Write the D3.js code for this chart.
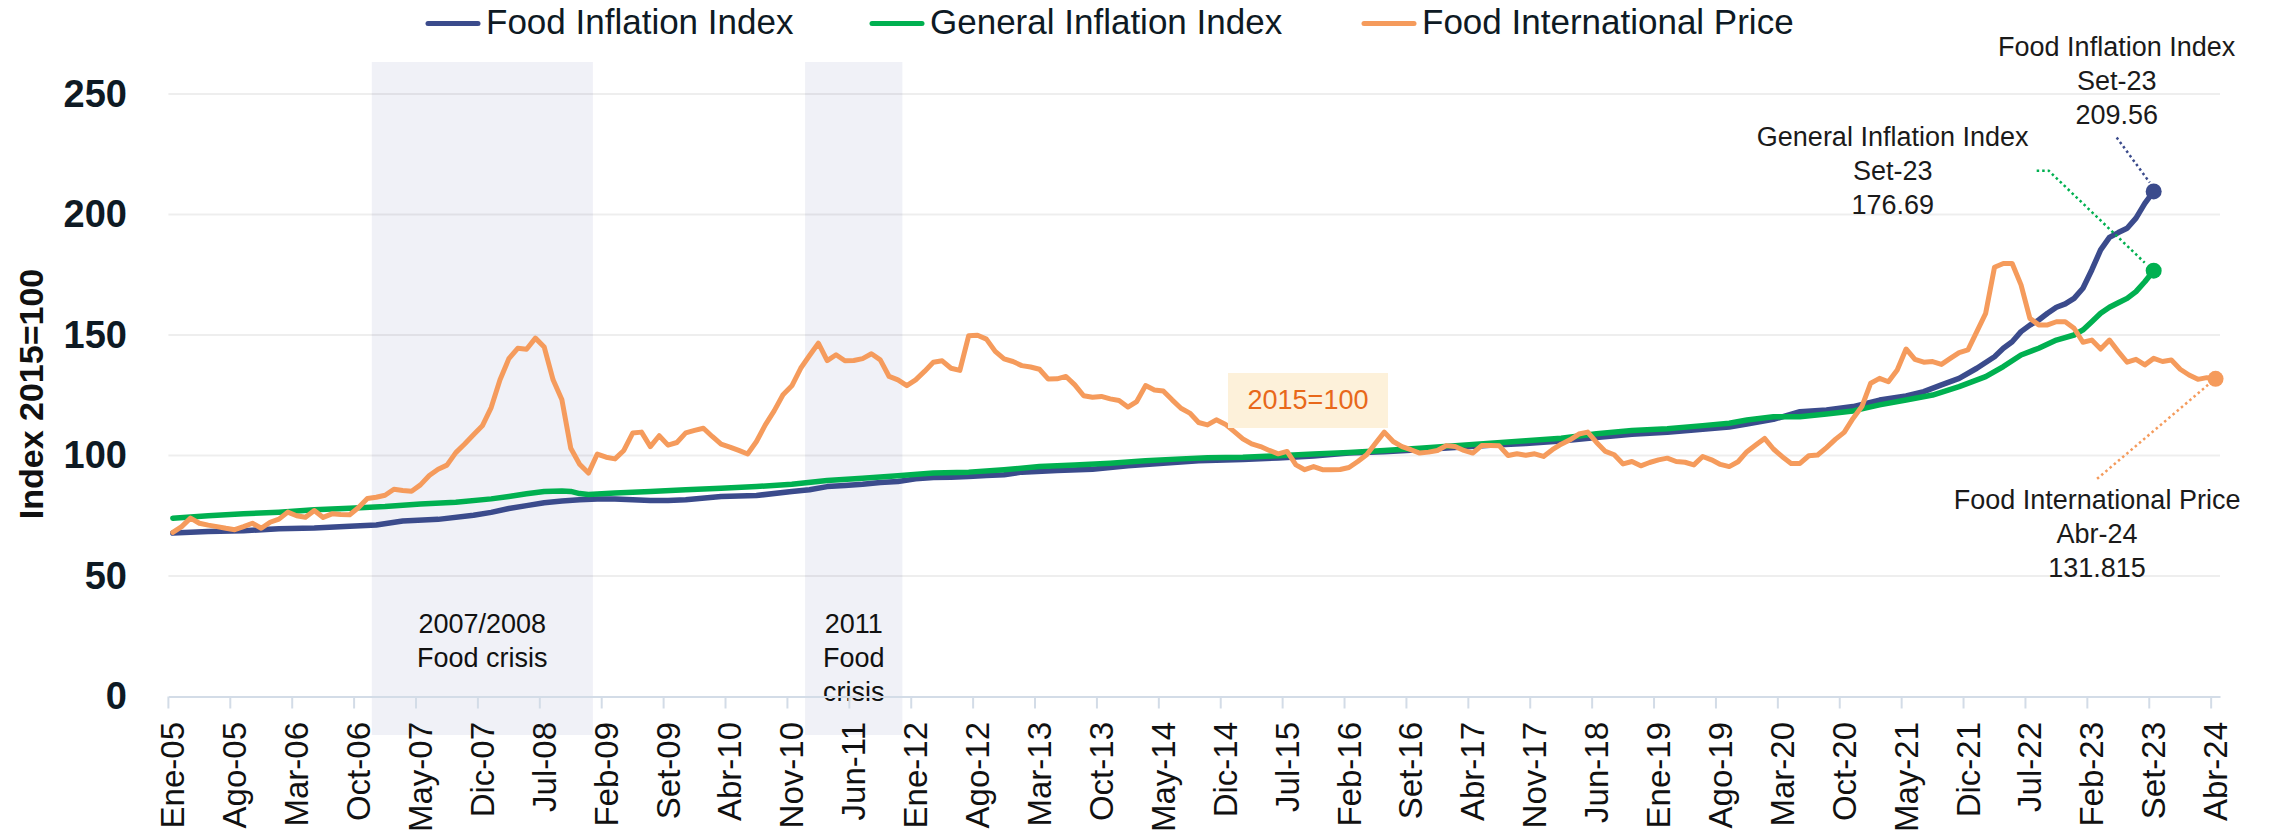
<!DOCTYPE html>
<html>
<head>
<meta charset="utf-8">
<script src="https://cdn.jsdelivr.net/npm/d3@7"></script>
<style>
  body { margin: 0; background: #fff; }
  text { font-family: "Liberation Sans", Arial, sans-serif; }
</style>
</head>
<body>
<script>
// ---- data ----
var monthNames = ["Ene","Feb","Mar","Abr","May","Jun","Jul","Ago","Set","Oct","Nov","Dic"];
var categories = [];
for (var i = 0; i < 232; i++) {
  categories.push(monthNames[i % 12] + "-" + String(5 + Math.floor(i / 12)).padStart(2, "0"));
}

var tickLabels = ["Ene-05","Ago-05","Mar-06","Oct-06","May-07","Dic-07","Jul-08","Feb-09","Set-09","Abr-10",
  "Nov-10","Jun-11","Ene-12","Ago-12","Mar-13","Oct-13","May-14","Dic-14","Jul-15","Feb-16","Set-16",
  "Abr-17","Nov-17","Jun-18","Ene-19","Ago-19","Mar-20","Oct-20","May-21","Dic-21","Jul-22","Feb-23",
  "Set-23","Abr-24"];

var yTicks = [0, 50, 100, 150, 200, 250];

// Food International Price, monthly Ene-05 .. Abr-24
var foodIntlPrice = [
  68.1, 70.5, 74.0, 71.9, 71.1, 70.5, 69.8, 69.2, 70.5, 71.9,
  69.8, 72.3, 73.6, 76.5, 75.0, 74.4, 77.2, 74.3, 75.8, 75.5,
  75.4, 78.4, 82.2, 82.7, 83.5, 86.0, 85.5, 85.2, 87.8, 91.7,
  94.3, 96.0, 101.2, 104.8, 108.6, 112.3, 119.9, 131.4, 140.2, 144.5,
  144.1, 148.7, 145.0, 131.4, 123.1, 103.0, 96.4, 92.7, 100.6, 99.3,
  98.6, 102.1, 109.3, 109.7, 103.7, 108.2, 104.3, 105.4, 109.4, 110.4,
  111.3, 107.9, 104.7, 103.5, 102.1, 100.6, 105.8, 112.7, 118.5, 125.2,
  128.9, 136.2, 141.5, 146.6, 139.4, 141.8, 139.3, 139.4, 140.2, 142.2,
  139.7, 132.8, 131.4, 129.0, 131.4, 134.9, 138.7, 139.3, 136.2, 135.3,
  149.7, 149.9, 148.3, 143.2, 140.1, 139.0, 137.3, 136.7, 135.8, 131.7,
  131.8, 132.8, 129.3, 124.8, 124.2, 124.5, 123.5, 122.8, 120.1, 122.4,
  129.0, 127.2, 126.8, 123.1, 119.6, 117.6, 113.7, 112.7, 114.8, 113.0,
  110.0, 106.9, 104.8, 103.7, 102.1, 100.7, 101.7, 96.1, 94.1, 95.4,
  94.1, 94.1, 94.2, 95.0, 97.5, 100.3, 105.1, 109.7, 105.8, 103.7,
  102.4, 101.0, 101.4, 102.1, 104.1, 103.7, 102.1, 101.0, 104.1, 104.1,
  104.0, 100.0, 100.7, 100.1, 100.7, 99.6, 102.4, 104.7, 106.5, 108.9,
  109.7, 105.4, 101.7, 100.3, 96.5, 97.5, 95.7, 97.1, 98.2, 98.9,
  97.5, 97.2, 96.1, 99.6, 98.2, 96.3, 95.4, 97.4, 101.6, 104.4,
  107.1, 102.7, 99.5, 96.7, 96.7, 99.9, 100.2, 103.3, 106.7, 109.6,
  115.4, 120.3, 130.0, 132.0, 130.6, 135.5, 144.2, 139.9, 138.7, 139.0,
  137.8, 140.3, 142.7, 143.8, 151.4, 159.0, 178.1, 179.7, 179.7, 170.8,
  156.9, 154.2, 154.2, 155.5, 155.5, 152.8, 147.0, 147.9, 144.2, 147.9,
  143.1, 138.7, 139.9, 137.6, 140.3, 139.0, 139.6, 135.8, 133.4, 131.6,
  132.3, 131.815
];

// Food Inflation Index (month index, value), up to Set-23
var foodInflMonths = [0,4,8,12,16,20,23,26,30,34,36,38,40,42,44,46,48,50,52,54,56,58,62,66,70,72,74,76,78,80,
  82,84,86,88,90,92,94,96,100,104,108,112,116,121,125,129,133,137,141,145,149,153,157,161,165,169,173,176,
  178,181,184,187,190,193,196,198,200,202,204,206,207,208,209,210,211,212,213,214,215,216,217,218,219,220,
  221,222,223,224];
var foodInflValues = [67.8,68.5,68.8,69.6,69.9,70.6,71.2,72.8,73.5,75.2,76.4,78.0,79.2,80.4,81.1,81.6,81.9,82.0,
  81.6,81.3,81.3,81.6,83.0,83.4,85.1,85.8,87.1,87.6,88.1,88.8,89.2,90.3,90.9,91.0,91.3,91.7,92.0,93.1,93.8,
  94.3,95.7,96.8,97.8,98.3,99.0,99.8,101.0,101.6,102.4,103.3,104.2,105.0,106.0,107.5,108.8,109.6,110.9,111.8,
  113.1,115.0,118.2,118.9,120.3,123.0,124.7,126.5,129.3,132.0,136.2,141.0,144.5,147.2,151.4,154.1,156.2,
  159.0,161.5,162.9,165.2,169.4,177.0,185.3,190.5,192.5,194.3,198.5,204.6,209.56];

// General Inflation Index (month index, value), up to Set-23
var genInflMonths = [0,4,8,12,16,20,24,28,32,36,38,40,42,44,45,46,47,50,54,58,62,66,70,74,78,82,86,90,94,98,
  102,106,110,114,117,121,125,129,133,137,141,145,149,153,157,161,165,169,173,176,178,181,184,187,190,193,
  196,199,202,205,207,209,211,213,215,216,217,218,219,220,221,222,223,224];
var genInflValues = [74.0,75.0,75.8,76.5,77.5,78.1,78.8,79.9,80.6,82.0,83.0,84.1,85.1,85.3,85.1,84.2,83.8,84.4,
  85.1,85.8,86.4,87.1,88.1,89.6,90.6,91.6,92.7,93.1,94.1,95.4,96.1,96.8,97.8,98.6,99.1,99.3,99.9,100.6,101.2,
  102.1,103.0,104.1,105.1,106.1,107.2,109.0,110.4,111.1,112.4,113.4,114.7,116.1,116.1,117.2,118.5,121.0,123.0,
  125.1,128.6,132.7,136.9,141.7,144.5,147.9,150.0,152.1,155.5,159.0,161.5,163.4,165.2,168.0,172.1,176.69];

var crisisFrom = ["Dic-06", "Ene-11"];
var crisisTo = ["Dic-08", "Nov-11"];
var crisisText = [["2007/2008", "Food crisis"], ["2011", "Food", "crisis"]];

var seriesNames = ["Food Inflation Index", "General Inflation Index", "Food International Price"];
var seriesColors = ["#3B4B8C", "#00B050", "#F59B5C"];
var seriesWidths = [5.5, 5.5, 5];

// ---- layout ----
var w = 2272, h = 839;
var svg = d3.select("body").append("svg").attr("width", w).attr("height", h);

var xScale = d3.scaleBand().domain(d3.range(categories.length)).range([168.4, 2220]).padding(0);
var bw = xScale.bandwidth();
var xc = function(i) { return xScale(i) + bw / 2; };
var yScale = d3.scaleLinear().domain([0, 250]).range([696.5, 94]);

// shaded crisis periods
crisisFrom.forEach(function(c, k) {
  var a = categories.indexOf(c), b = categories.indexOf(crisisTo[k]);
  var x0 = xScale(a), x1 = xScale(b) + bw;
  svg.append("rect")
    .attr("x", x0).attr("y", 62)
    .attr("width", x1 - x0).attr("height", 735 - 62)
    .attr("fill", "#F0F1F7");
  var t = svg.append("text")
    .attr("text-anchor", "middle")
    .style("font-size", "27px")
    .attr("fill", "#111");
  crisisText[k].forEach(function(line, j) {
    t.append("tspan").attr("x", (x0 + x1) / 2).attr("y", 633 + j * 34).text(line);
  });
});

// gridlines
svg.append("g").selectAll("line")
  .data(yTicks.filter(function(d) { return d > 0; }))
  .enter().append("line")
    .attr("x1", 168.4).attr("x2", 2220)
    .attr("y1", function(d) { return yScale(d); })
    .attr("y2", function(d) { return yScale(d); })
    .attr("stroke", "rgba(0,0,0,0.065)")
    .attr("stroke-width", 2);

// y axis labels
var yAxis = d3.axisLeft(yScale).tickValues(yTicks).tickSize(0).tickPadding(0);
var gy = svg.append("g").attr("transform", "translate(127,0)").call(yAxis);
gy.select(".domain").remove();
gy.selectAll("text")
  .style("font-family", '"Liberation Sans", Arial, sans-serif')
  .style("font-size", "38px")
  .style("font-weight", "bold")
  .attr("fill", "#0E1A24");

svg.append("text")
  .attr("transform", "translate(43,394) rotate(-90)")
  .attr("text-anchor", "middle")
  .style("font-size", "34px")
  .style("font-weight", "bold")
  .attr("fill", "#111")
  .text("Index 2015=100");

// x axis
var tickIdx = tickLabels.map(function(l) { return categories.indexOf(l); });
var xAxis = d3.axisBottom(xScale).tickValues(tickIdx)
  .tickFormat(function(i) { return categories[i]; })
  .tickSizeInner(12).tickSizeOuter(0);
var gx = svg.append("g").attr("transform", "translate(0," + yScale(0) + ")").call(xAxis);
gx.select(".domain").attr("stroke", "#D3DCE7").attr("stroke-width", 2);
gx.selectAll(".tick line")
  .attr("stroke", "#D3DCE7").attr("stroke-width", 2)
  .attr("transform", "translate(" + (-bw / 2) + ",0)");
gx.selectAll(".tick text")
  .attr("transform", "rotate(-90)")
  .attr("x", -25.5).attr("y", 0).attr("dy", "0.35em")
  .style("text-anchor", "end")
  .style("font-family", '"Liberation Sans", Arial, sans-serif')
  .style("font-size", "33px")
  .attr("fill", "#111");

// lines
var line = d3.line()
  .x(function(d) { return xc(d[0]); })
  .y(function(d) { return yScale(d[1]); });

var foodInfl = foodInflMonths.map(function(m, k) { return [m, foodInflValues[k]]; });
var genInfl = genInflMonths.map(function(m, k) { return [m, genInflValues[k]]; });
var foodIntl = foodIntlPrice.map(function(v, k) { return [k, v]; });
var allSeries = [foodInfl, genInfl, foodIntl];

allSeries.forEach(function(s, k) {
  svg.append("path")
    .datum(s)
    .attr("d", line)
    .attr("fill", "none")
    .attr("stroke", seriesColors[k])
    .attr("stroke-width", seriesWidths[k])
    .attr("stroke-linejoin", "round")
    .attr("stroke-linecap", "round");
});

// end points and labels
var annText = [
  ["Food Inflation Index", "Set-23", "209.56"],
  ["General Inflation Index", "Set-23", "176.69"],
  ["Food International Price", "Abr-24", "131.815"]
];
var annLabelOffset = [[-37, -135], [-261, -125], [-118.5, 130]];
var annLeader = [
  [[-37, -54], [-4, -9]],
  [[-117, -100], [-105, -100], [-9, -8]],
  [[-118.5, 100], [-7.5, 6]]
];

allSeries.forEach(function(s, k) {
  var last = s[s.length - 1];
  var px = xc(last[0]), py = yScale(last[1]);
  svg.append("path")
    .attr("d", d3.line()(annLeader[k].map(function(p) { return [px + p[0], py + p[1]]; })))
    .attr("fill", "none")
    .attr("stroke", seriesColors[k])
    .attr("stroke-width", 2.5)
    .attr("stroke-dasharray", "2.5,3");
  svg.append("circle")
    .attr("cx", px).attr("cy", py).attr("r", 8)
    .attr("fill", seriesColors[k]);
  var t = svg.append("text")
    .attr("text-anchor", "middle")
    .style("font-size", "27px")
    .attr("fill", "#1a1a1a");
  annText[k].forEach(function(l, j) {
    t.append("tspan")
      .attr("x", px + annLabelOffset[k][0])
      .attr("y", py + annLabelOffset[k][1] + j * 34)
      .text(l);
  });
});

// "2015=100" note
svg.append("rect")
  .attr("x", 1228).attr("y", 373).attr("width", 160).attr("height", 55)
  .attr("fill", "#FDF1DA");
svg.append("text")
  .attr("x", 1308).attr("y", 409)
  .attr("text-anchor", "middle")
  .style("font-size", "27px")
  .attr("fill", "#E8681A")
  .text("2015=100");

// legend
var legendX = [428, 872, 1364];
seriesNames.forEach(function(name, k) {
  var g = svg.append("g").attr("transform", "translate(" + legendX[k] + ",23.5)");
  g.append("line")
    .attr("x1", 0).attr("x2", 50)
    .attr("stroke", seriesColors[k])
    .attr("stroke-width", 5)
    .attr("stroke-linecap", "round");
  g.append("text")
    .attr("x", 58).attr("y", 10.5)
    .style("font-size", "35px")
    .attr("fill", "#0E1A24")
    .text(name);
});
</script>
</body>
</html>
